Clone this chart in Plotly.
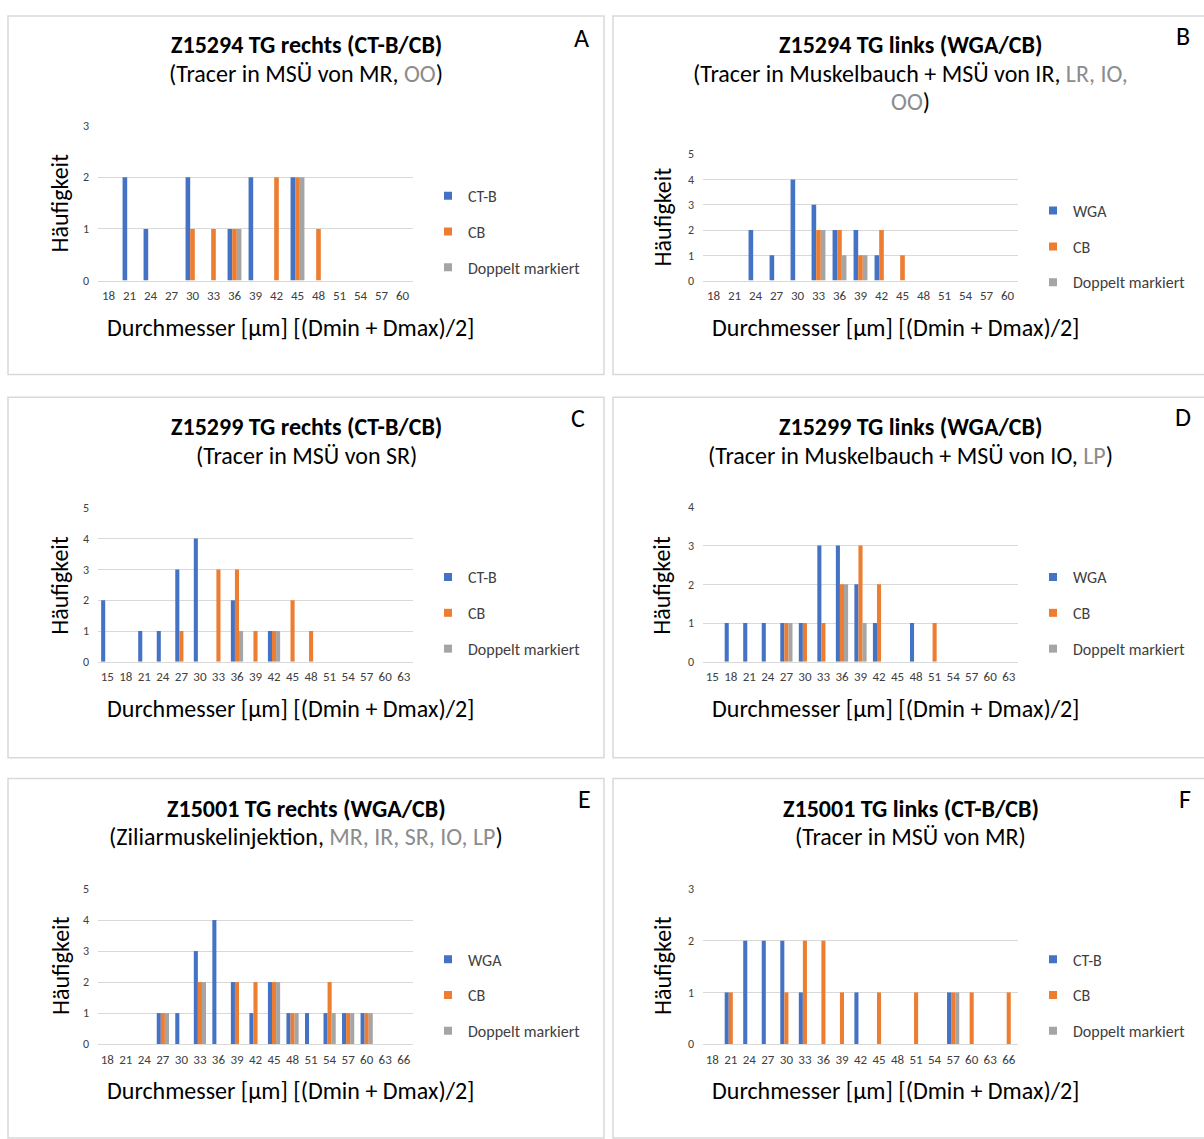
import plotly.graph_objects as go

W, H = 1204, 1139
FONT = "Carlito, Calibri, Lato, sans-serif"
BLUE, ORANGE, GRAY = "#4472C4", "#ED7D31", "#A5A5A5"
GRID = "#D9D9D9"
SUBGRAY = "#8C8C8C"

# ---------------- data ----------------
cats_18_60 = ["18", "21", "24", "27", "30", "33", "36", "39", "42", "45", "48", "51", "54", "57", "60"]
cats_15_63 = ["15", "18", "21", "24", "27", "30", "33", "36", "39", "42", "45", "48", "51", "54", "57", "60", "63"]
cats_18_66 = ["18", "21", "24", "27", "30", "33", "36", "39", "42", "45", "48", "51", "54", "57", "60", "63", "66"]

# A: Z15294 TG rechts (CT-B/CB)
A_ctb = [0, 2, 1, 0, 2, 0, 1, 2, 0, 2, 0, 0, 0, 0, 0]
A_cb  = [0, 0, 0, 0, 1, 1, 1, 0, 2, 2, 1, 0, 0, 0, 0]
A_dop = [0, 0, 0, 0, 0, 0, 1, 0, 0, 2, 0, 0, 0, 0, 0]
# B: Z15294 TG links (WGA/CB)
B_wga = [0, 0, 2, 1, 4, 3, 2, 2, 1, 0, 0, 0, 0, 0, 0]
B_cb  = [0, 0, 0, 0, 0, 2, 2, 1, 2, 1, 0, 0, 0, 0, 0]
B_dop = [0, 0, 0, 0, 0, 2, 1, 1, 0, 0, 0, 0, 0, 0, 0]
# C: Z15299 TG rechts (CT-B/CB)
C_ctb = [2, 0, 1, 1, 3, 4, 0, 2, 0, 1, 0, 0, 0, 0, 0, 0, 0]
C_cb  = [0, 0, 0, 0, 1, 0, 3, 3, 1, 1, 2, 1, 0, 0, 0, 0, 0]
C_dop = [0, 0, 0, 0, 0, 0, 0, 1, 0, 1, 0, 0, 0, 0, 0, 0, 0]
# D: Z15299 TG links (WGA/CB)
D_wga = [0, 1, 1, 1, 1, 1, 3, 3, 2, 1, 0, 1, 0, 0, 0, 0, 0]
D_cb  = [0, 0, 0, 0, 1, 1, 1, 2, 3, 2, 0, 0, 1, 0, 0, 0, 0]
D_dop = [0, 0, 0, 0, 1, 0, 0, 2, 1, 0, 0, 0, 0, 0, 0, 0, 0]
# E: Z15001 TG rechts (WGA/CB)
E_wga = [0, 0, 0, 1, 1, 3, 4, 2, 1, 2, 1, 1, 1, 1, 1, 0, 0]
E_cb  = [0, 0, 0, 1, 0, 2, 0, 2, 2, 2, 1, 0, 2, 1, 1, 0, 0]
E_dop = [0, 0, 0, 1, 0, 2, 0, 0, 0, 2, 1, 0, 1, 1, 1, 0, 0]
# F: Z15001 TG links (CT-B/CB)
F_ctb = [0, 1, 2, 2, 2, 1, 0, 0, 1, 0, 0, 0, 0, 1, 0, 0, 0]
F_cb  = [0, 1, 0, 0, 1, 2, 2, 1, 0, 1, 0, 1, 0, 1, 1, 0, 1]
F_dop = [0, 0, 0, 0, 0, 0, 0, 0, 0, 0, 0, 0, 0, 1, 0, 0, 0]

x_title = "Durchmesser [µm] [(Dmin + Dmax)/2]"
y_title = "Häufigkeit"


def g(t):
    return f"<span style='color:{SUBGRAY}'>{t}</span>"


panels = [
    dict(letter="A", cats=cats_18_60, series=[("CT-B", A_ctb), ("CB", A_cb), ("Doppelt markiert", A_dop)],
         ymax=3, box=(8, 9, 604, 372), plot=(98, 413, 120, 277),
         title="Z15294 TG rechts (CT-B/CB)", subs=["(Tracer in MSÜ von MR, " + g("OO") + ")"],
         title_y=44, letter_xy=(581, 40), ytitle_xy=(60, 199), xtitle_xy=(290, 327), legend_xy=(428, 174)),
    dict(letter="B", cats=cats_18_60, series=[("WGA", B_wga), ("CB", B_cb), ("Doppelt markiert", B_dop)],
         ymax=5, box=(613, 9, 1208, 372), plot=(703, 1018, 149, 277),
         title="Z15294 TG links (WGA/CB)",
         subs=["(Tracer in Muskelbauch + MSÜ von IR, " + g("LR, IO,"), g("OO") + ")"],
         title_y=44, letter_xy=(1183, 38), ytitle_xy=(662, 213), xtitle_xy=(895, 327), legend_xy=(1033, 189)),
    dict(letter="C", cats=cats_15_63, series=[("CT-B", C_ctb), ("CB", C_cb), ("Doppelt markiert", C_dop)],
         ymax=5, box=(8, 395, 604, 760), plot=(98, 413, 507, 663),
         title="Z15299 TG rechts (CT-B/CB)", subs=["(Tracer in MSÜ von SR)"],
         title_y=431, letter_xy=(578, 425), ytitle_xy=(60, 586), xtitle_xy=(290, 713), legend_xy=(428, 560)),
    dict(letter="D", cats=cats_15_63, series=[("WGA", D_wga), ("CB", D_cb), ("Doppelt markiert", D_dop)],
         ymax=4, box=(613, 395, 1208, 760), plot=(703, 1018, 506, 663),
         title="Z15299 TG links (WGA/CB)", subs=["(Tracer in Muskelbauch + MSÜ von IO, " + g("LP") + ")"],
         title_y=431, letter_xy=(1183, 424), ytitle_xy=(662, 586), xtitle_xy=(895, 713), legend_xy=(1033, 560)),
    dict(letter="E", cats=cats_18_66, series=[("WGA", E_wga), ("CB", E_cb), ("Doppelt markiert", E_dop)],
         ymax=5, box=(8, 781, 604, 1145), plot=(98, 413, 893, 1050),
         title="Z15001 TG rechts (WGA/CB)",
         subs=["(Ziliarmuskelinjektion, " + g("MR, IR, SR, IO, LP") + ")"],
         title_y=817, letter_xy=(584, 811), ytitle_xy=(60, 971), xtitle_xy=(290, 1100), legend_xy=(428, 947)),
    dict(letter="F", cats=cats_18_66, series=[("CT-B", F_ctb), ("CB", F_cb), ("Doppelt markiert", F_dop)],
         ymax=3, box=(613, 781, 1208, 1145), plot=(703, 1018, 893, 1050),
         title="Z15001 TG links (CT-B/CB)", subs=["(Tracer in MSÜ von MR)"],
         title_y=817, letter_xy=(1185, 811), ytitle_xy=(662, 971), xtitle_xy=(895, 1100), legend_xy=(1033, 947)),
]

colors = [BLUE, ORANGE, GRAY]

TITLE_FS = 24
AXT_FS = 24
LEG_FS = 16
XTICK_FS = 13
YTICK_FS = 12
LETTER_FS = 26
DY = -6  # vertical correction for annotation text


def px(x):
    return x / W


def py(y):
    return 1 - y / H


fig = go.Figure()
layout = dict(
    width=W, height=H, margin=dict(l=0, r=0, t=0, b=0),
    paper_bgcolor="white", plot_bgcolor="white",
    font=dict(family=FONT, color="#000000"),
    barmode="group", bargap=0.34, bargroupgap=0,
    shapes=[], annotations=[],
)

for i, p in enumerate(panels, start=1):
    xa = "x" if i == 1 else f"x{i}"
    ya = "y" if i == 1 else f"y{i}"
    lg = "legend" if i == 1 else f"legend{i}"
    for (name, vals), col in zip(p["series"], colors):
        fig.add_trace(go.Bar(x=p["cats"], y=vals, name=name, marker=dict(color=col, line=dict(width=0)),
                             xaxis=xa, yaxis=ya, showlegend=False, hoverinfo="x+y+name"))
    for k, ((name, vals), col) in enumerate(zip(p["series"], colors)):
        fig.add_trace(go.Scatter(x=[None], y=[None], mode="markers", name=name,
                                 marker=dict(symbol="square", size=8, color=col),
                                 xaxis=xa, yaxis=ya, legend=lg, legendgroup=f"{i}-{k}", showlegend=True))
    x0, x1, yt, yb = p["plot"]
    layout["xaxis" if i == 1 else f"xaxis{i}"] = dict(
        domain=[px(x0), px(x1)], anchor=ya, type="category",
        categoryorder="array", categoryarray=p["cats"],
        showgrid=False, showline=True, linecolor=GRID, linewidth=1, ticks="",
        tickfont=dict(size=XTICK_FS, color="#404040"), ticklabelstandoff=3, fixedrange=True,
    )
    layout["yaxis" if i == 1 else f"yaxis{i}"] = dict(
        domain=[py(yb), py(yt)], anchor=xa, range=[0, p["ymax"]], dtick=1,
        showgrid=True, gridcolor=GRID, gridwidth=1, zeroline=False, showline=False, ticks="",
        tickfont=dict(size=YTICK_FS, color="#404040"), ticklabelstandoff=8, fixedrange=True,
    )
    lx, ly = p["legend_xy"]
    layout[lg] = dict(x=px(lx), y=py(ly), xanchor="left", yanchor="top", xref="paper", yref="paper",
                      font=dict(size=LEG_FS, color="#404040", family=FONT), bgcolor="rgba(0,0,0,0)",
                      tracegroupgap=12, itemclick=False, itemdoubleclick=False, traceorder="grouped")
    bx0, by0, bx1, by1 = p["box"]
    layout["shapes"].append(dict(type="rect", xref="paper", yref="paper", x0=px(bx0), x1=px(bx1),
                                 y0=py(by1), y1=py(by0), line=dict(color=GRID, width=1.5), fillcolor="rgba(0,0,0,0)",
                                 layer="below"))
    cx = (bx0 + bx1) / 2
    layout["annotations"].append(dict(text=f"<b>{p['title']}</b>", x=px(cx), y=py(p["title_y"] + DY),
                                      xref="paper", yref="paper", showarrow=False, xanchor="center",
                                      yanchor="middle", font=dict(size=TITLE_FS, color="#000000")))
    for j, s in enumerate(p["subs"]):
        layout["annotations"].append(dict(text=s, x=px(cx), y=py(p["title_y"] + DY + 29 * (j + 1)),
                                          xref="paper", yref="paper", showarrow=False, xanchor="center",
                                          yanchor="middle", font=dict(size=TITLE_FS, color="#000000")))
    lxy = p["letter_xy"]
    layout["annotations"].append(dict(text=p["letter"], x=px(lxy[0]), y=py(lxy[1] + DY - 3), xref="paper",
                                      yref="paper", showarrow=False, xanchor="center", yanchor="middle",
                                      font=dict(size=LETTER_FS, color="#000000")))
    ty = p["ytitle_xy"]
    layout["annotations"].append(dict(text=y_title, x=px(ty[0]), y=py(ty[1]), xref="paper", yref="paper",
                                      showarrow=False, xanchor="center", yanchor="middle", textangle=-90,
                                      font=dict(size=AXT_FS, color="#000000")))
    tx = p["xtitle_xy"]
    layout["annotations"].append(dict(text=x_title, x=px(tx[0]), y=py(tx[1] - 3), xref="paper", yref="paper",
                                      showarrow=False, xanchor="center", yanchor="middle",
                                      font=dict(size=AXT_FS, color="#000000")))

fig.update_layout(**layout)
fig.write_html("out.html")
